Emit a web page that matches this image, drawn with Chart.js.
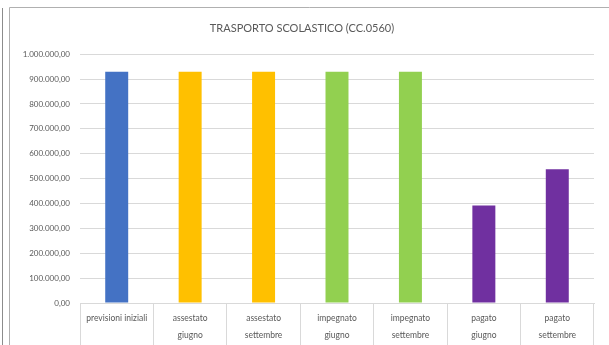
<!DOCTYPE html>
<html>
<head>
<meta charset="utf-8">
<script src="https://cdn.jsdelivr.net/npm/chart.js@4"></script>
<style>
html,body{margin:0;padding:0;background:#fff;}
#wrap{position:relative;width:609px;height:345px;}
</style>
</head>
<body>
<div id="wrap"><canvas id="c" width="609" height="345"></canvas></div>
<script>
const titleText = 'TRASPORTO SCOLASTICO (CC.0560)';
const categories = [
  ['previsioni iniziali'],
  ['assestato', 'giugno'],
  ['assestato', 'settembre'],
  ['impegnato', 'giugno'],
  ['impegnato', 'settembre'],
  ['pagato', 'giugno'],
  ['pagato', 'settembre']
];
const values = [929000, 929000, 929000, 929000, 929000, 392000, 537500];
const barColors = ['#4472C4', '#FFC000', '#FFC000', '#92D050', '#92D050', '#7030A0', '#7030A0'];
const yMin = 0, yMax = 1000000, yStep = 100000;

function fmtIt(v) {
  const parts = Math.round(v).toString().replace(/\B(?=(\d{3})+(?!\d))/g, '.');
  return parts + ',00';
}

const framePlugin = {
  id: 'frame',
  beforeDraw(chart) {
    const ctx = chart.ctx;
    ctx.save();
    ctx.fillStyle = '#ffffff';
    ctx.fillRect(0, 0, chart.width, chart.height);
    ctx.strokeStyle = '#8c8c8c';
    ctx.lineWidth = 1;
    ctx.beginPath();
    ctx.moveTo(2.5, 8); ctx.lineTo(2.5, 345);
    ctx.stroke();
    ctx.strokeStyle = '#b0b0b0';
    ctx.beginPath();
    ctx.moveTo(9.5, 345); ctx.lineTo(9.5, 7.5); ctx.lineTo(609, 7.5);
    ctx.stroke();
    ctx.restore();
  }
};

const FONT = 'Lato, "Open Sans", sans-serif';

new Chart(document.getElementById('c'), {
  type: 'bar',
  data: {
    labels: categories,
    datasets: [{
      data: values,
      backgroundColor: barColors,
      borderWidth: 0,
      categoryPercentage: 1,
      barPercentage: 0.313
    }]
  },
  options: {
    responsive: false,
    animation: false,
    devicePixelRatio: 1,
    layout: { padding: { left: 10, right: 15, top: 0, bottom: 0 } },
    plugins: {
      legend: { display: false },
      tooltip: { enabled: false },
      title: {
        display: true,
        text: titleText,
        color: '#595959',
        font: { family: FONT, size: 11, weight: 'normal' },
        padding: { top: 22, bottom: 19 }
      }
    },
    scales: {
      x: {
        offset: true,
        grid: {
          offset: true,
          drawOnChartArea: false,
          drawTicks: true,
          tickLength: 45,
          color: '#d9d9d9'
        },
        border: { display: true, color: '#d9d9d9' },
        ticks: {
          color: '#595959',
          font: { family: FONT, size: 8.5, lineHeight: 1.95 },
          padding: -38,
          maxRotation: 0,
          autoSkip: false
        },
        afterFit(axis) { axis.height = 42; }
      },
      y: {
        min: yMin,
        max: yMax,
        ticks: {
          stepSize: yStep,
          color: '#595959',
          font: { family: FONT, size: 8 },
          padding: 10,
          callback: (v) => fmtIt(v)
        },
        grid: { color: '#d9d9d9', drawTicks: false },
        border: { display: false },
        afterFit(axis) { axis.width = 70; }
      }
    }
  },
  plugins: [framePlugin]
});
</script>
</body>
</html>
